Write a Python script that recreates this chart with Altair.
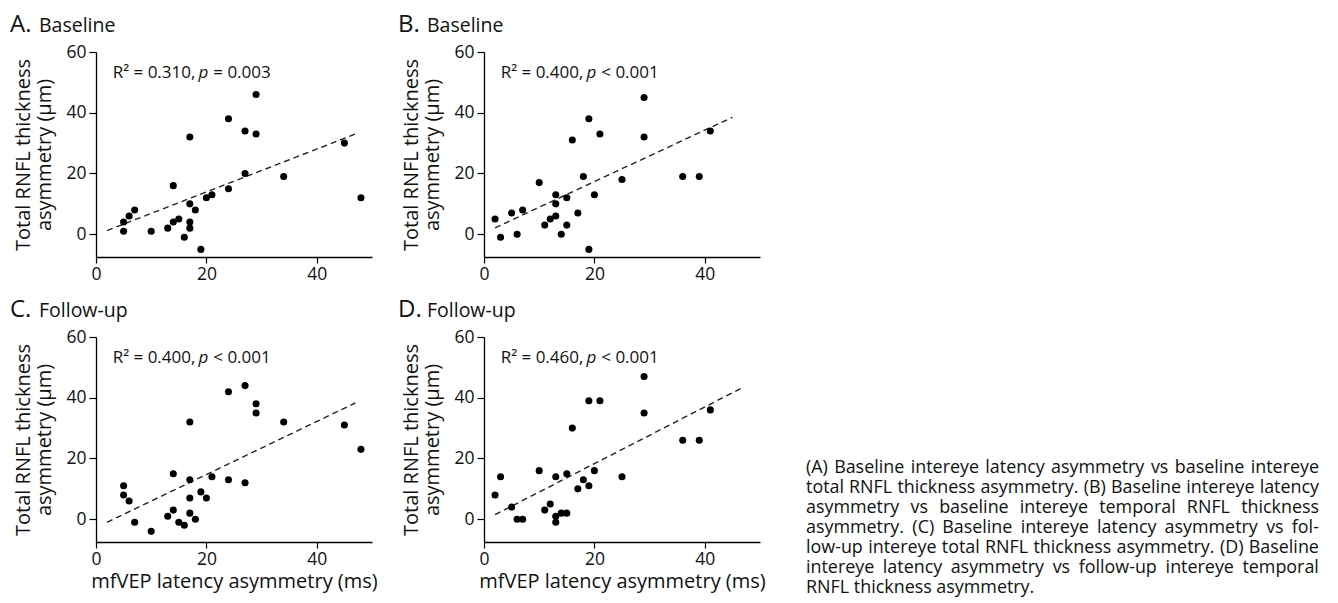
import altair as alt
import pandas as pd

FONT = "Open Sans"
INK = "#111111"

# ---------------- data ----------------
# Panel A: baseline latency asymmetry vs baseline total RNFL asymmetry
a_x = [5, 5, 6, 7, 10, 13, 14, 14, 15, 16, 17, 17, 17, 17, 18, 19, 20, 21, 24, 24, 27, 27, 29, 29, 34, 45, 48]
a_y = [4, 1, 6, 8, 1, 2, 16, 4, 5, -1, 32, 10, 4, 2, 8, -5, 12, 13, 38, 15, 34, 20, 46, 33, 19, 30, 12]
a_fit_x = [2, 47]
a_fit_y = [1.2, 33]

# Panel B: baseline latency asymmetry vs baseline temporal RNFL asymmetry
b_x = [2, 3, 5, 6, 7, 10, 11, 12, 13, 13, 13, 14, 15, 15, 16, 17, 18, 19, 19, 20, 21, 25, 29, 29, 36, 39, 41]
b_y = [5, -1, 7, 0, 8, 17, 3, 5, 13, 10, 6, 0, 12, 3, 31, 7, 19, 38, -5, 13, 33, 18, 45, 32, 19, 19, 34]
b_fit_x = [2, 45]
b_fit_y = [2.1, 38.5]

# Panel C: baseline latency asymmetry vs follow-up total RNFL asymmetry
c_x = [5, 5, 6, 7, 10, 13, 14, 14, 15, 16, 17, 17, 17, 17, 18, 19, 20, 21, 24, 24, 27, 27, 29, 29, 34, 45, 48]
c_y = [11, 8, 6, -1, -4, 1, 15, 3, -1, -2, 32, 13, 7, 2, 0, 9, 7, 14, 42, 13, 44, 12, 38, 35, 32, 31, 23]
c_fit_x = [2, 47]
c_fit_y = [-1, 38.3]

# Panel D: baseline latency asymmetry vs follow-up temporal RNFL asymmetry
d_x = [2, 3, 5, 6, 7, 10, 11, 12, 13, 13, 13, 14, 15, 15, 16, 17, 18, 19, 19, 20, 21, 25, 29, 29, 36, 39, 41]
d_y = [8, 14, 4, 0, 0, 16, 3, 5, 14, 1, -1, 2, 2, 15, 30, 10, 13, 39, 11, 16, 39, 14, 47, 35, 26, 26, 36]
d_fit_x = [2, 47]
d_fit_y = [1.5, 43.5]

letters = ["A.", "B.", "C.", "D."]
phases = ["Baseline", "Baseline", "Follow-up", "Follow-up"]
r2_texts = ["R\u00b2 = 0.310,", "R\u00b2 = 0.400,", "R\u00b2 = 0.400,", "R\u00b2 = 0.460,"]
p_texts = ["= 0.003", "< 0.001", "< 0.001", "< 0.001"]

x_ticks = [0, 20, 40]
y_ticks = [0, 20, 40, 60]
x_title = "mfVEP latency asymmetry (ms)"
y_title = ["Total RNFL thickness", "asymmetry (\u00b5m)"]

caption_lines = [
    "(A) Baseline intereye latency asymmetry vs baseline intereye",
    "total RNFL thickness asymmetry. (B) Baseline intereye latency",
    "asymmetry vs baseline intereye temporal RNFL thickness",
    "asymmetry. (C) Baseline intereye latency asymmetry vs fol-",
    "low-up intereye total RNFL thickness asymmetry. (D) Baseline",
    "intereye latency asymmetry vs follow-up intereye temporal",
    "RNFL thickness asymmetry.",
]

# ---------------- layout helpers ----------------
PW, PH = 276, 205

# approximate Open Sans advance widths (units per 2048 em) for text layout
OS_W = {
    " ": 532, "(": 596, ")": 596, ".": 545, ",": 500, "-": 659, "=": 1139, "<": 1139,
    "\u00b2": 727,
    "A": 1296, "B": 1327, "C": 1292, "D": 1493, "F": 1057, "L": 1063, "N": 1556, "R": 1264,
    "a": 1139, "b": 1255, "c": 975, "d": 1255, "e": 1149, "f": 694, "g": 1122, "h": 1257,
    "i": 518, "k": 1075, "l": 518, "m": 1905, "n": 1257, "o": 1237, "p": 1255, "r": 836,
    "s": 977, "t": 723, "u": 1257, "v": 1026, "w": 1593, "y": 1028,
}
for _d in "0123456789":
    OS_W[_d] = 1139


def text_w(s, size):
    return sum(OS_W.get(ch, 1100) for ch in s) / 2048.0 * size


def text_layer(value, x, y, size, style="normal"):
    df = pd.DataFrame({"t": [value]})
    return alt.Chart(df).mark_text(
        align="left", baseline="alphabetic", font=FONT, fontSize=size,
        fontStyle=style, color=INK
    ).encode(x=alt.value(x), y=alt.value(y), text="t:N")


ANN_SIZE = 17
ANN_X = 16.7
ANN_Y = 25.6


def panel(i, xs, ys, fx, fy, show_x_title):
    pts = pd.DataFrame({"x": xs, "y": ys})
    fit = pd.DataFrame({"x": fx, "y": fy})
    xscale = alt.Scale(domain=[0, 50], nice=False, zero=False)
    yscale = alt.Scale(domain=[-7.5, 60], nice=False, zero=False)
    xaxis = alt.Axis(
        values=x_ticks, title=x_title if show_x_title else None, grid=False,
        domainColor="black", domainWidth=1.3, tickColor="black", tickSize=6,
        tickWidth=1.2, labelPadding=2, labelFont=FONT, labelFontSize=17.5,
        labelColor=INK, titleFont=FONT, titleFontSize=20, titleFontWeight="normal",
        titleColor=INK, titlePadding=4, labelFlush=False,
    )
    yaxis = alt.Axis(
        values=y_ticks, title=y_title, grid=False,
        domainColor="black", domainWidth=1.3, tickColor="black", tickSize=7,
        tickWidth=1.2, labelPadding=3, labelFont=FONT, labelFontSize=17.5,
        labelColor=INK, titleFont=FONT, titleFontSize=20, titleFontWeight="normal",
        titleColor=INK, titlePadding=11, titleLineHeight=21, labelFlush=False,
    )
    enc_x = alt.X("x:Q", scale=xscale, axis=xaxis)
    enc_y = alt.Y("y:Q", scale=yscale, axis=yaxis)
    line = alt.Chart(fit).mark_line(
        color="#222222", strokeDash=[6, 4], strokeWidth=1.4
    ).encode(x=enc_x, y=enc_y)
    dots = alt.Chart(pts).mark_circle(size=50, color="black", opacity=1).encode(
        x=enc_x, y=enc_y
    )
    p_x = ANN_X + text_w(r2_texts[i] + " ", ANN_SIZE)
    rest_x = p_x + text_w("p ", ANN_SIZE)
    layers = [
        line,
        dots,
        text_layer(letters[i], -86, -20, 24),
        text_layer(phases[i], -57, -20, 19.5),
        text_layer(r2_texts[i], ANN_X, ANN_Y, ANN_SIZE),
        text_layer("p", p_x, ANN_Y, ANN_SIZE, "italic"),
        text_layer(p_texts[i], rest_x, ANN_Y, ANN_SIZE),
    ]
    return alt.layer(*layers).properties(width=PW, height=PH)


pA = panel(0, a_x, a_y, a_fit_x, a_fit_y, False)
pB = panel(1, b_x, b_y, b_fit_x, b_fit_y, False)
pC = panel(2, c_x, c_y, c_fit_x, c_fit_y, True)
pD = panel(3, d_x, d_y, d_fit_x, d_fit_y, True)

# ---------------- justified caption ----------------
CAP_SIZE = 17.9
CAP_W = 513
rows = []
for li, ln in enumerate(caption_lines):
    words = ln.split(" ")
    widths = [text_w(w, CAP_SIZE) for w in words]
    if li < len(caption_lines) - 1 and len(words) > 1:
        gap = (CAP_W - sum(widths)) / (len(words) - 1)
    else:
        gap = text_w(" ", CAP_SIZE)
    pos = 0.0
    for w, wd in zip(words, widths):
        rows.append({"line": li, "word": w, "px": pos})
        pos += wd + gap
cap = pd.DataFrame(rows)

caption = alt.Chart(cap).mark_text(
    align="left", baseline="alphabetic", font=FONT, fontSize=CAP_SIZE, color=INK
).encode(
    x=alt.X("px:Q", scale=alt.Scale(domain=[0, CAP_W], range=[20, 20 + CAP_W], nice=False, zero=False), axis=None),
    y=alt.Y("line:Q", scale=alt.Scale(domain=[0, 6], range=[421, 541], nice=False, zero=False), axis=None),
    text="word:N",
).properties(width=540, height=540)

left = alt.vconcat(pA, pC, spacing=15)
right = alt.vconcat(pB, pD, spacing=15)

chart = alt.hconcat(left, right, caption, spacing=20).properties(
    padding={"left": 2, "top": 5, "right": 2, "bottom": 0},
    background="white",
).configure_view(stroke=None, strokeWidth=0)

chart.save("out.html", embed_options={"renderer": "svg", "actions": False})
